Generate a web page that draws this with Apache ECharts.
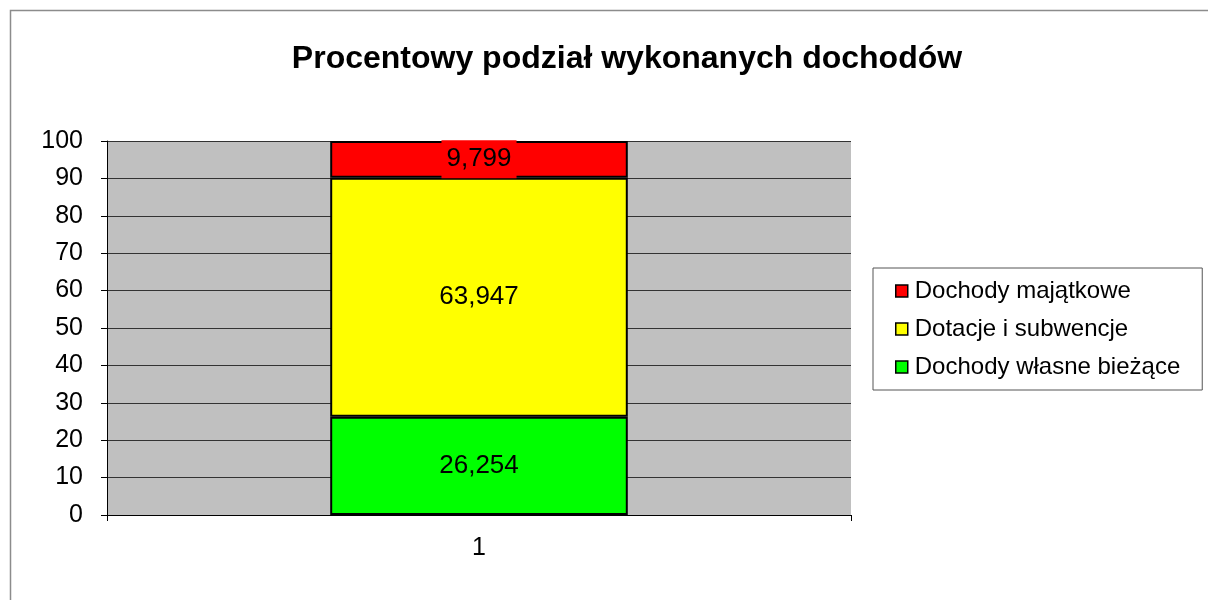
<!DOCTYPE html>
<html lang="pl">
<head>
    <meta charset="UTF-8">
    <title>Procentowy podział wykonanych dochodów</title>
    <script src="https://cdn.jsdelivr.net/npm/echarts@6/dist/echarts.min.js"></script>
    <style>
        html, body { margin: 0; padding: 0; background: #fff; }
        #main { width: 1208px; height: 600px; }
    </style>
</head>
<body>
<div id="main"></div>
<script>
    // dane z wykresu
    let categories = ['1']
    let seriesNames = ['Dochody własne bieżące', 'Dotacje i subwencje', 'Dochody majątkowe']
    let seriesColors = ['#00ff00', '#ffff00', '#ff0000']
    let wlasne = [26.254]
    let dotacje = [63.947]
    let majatkowe = [9.799]
    let yTicks = [0, 10, 20, 30, 40, 50, 60, 70, 80, 90, 100]

    let values = [wlasne, dotacje, majatkowe]
    let fnt = 'Liberation Sans, Arial, sans-serif'

    var myChart = echarts.init(document.getElementById('main'), null, {renderer: 'canvas'});

    let series = []
    for (let i = 0; i < seriesNames.length; i++) {
        series.push({
            name: seriesNames[i],
            type: 'bar',
            stack: 'total',
            barWidth: '40%',
            data: values[i],
            itemStyle: {color: seriesColors[i], borderColor: '#000', borderWidth: 2},
            label: {
                show: true,
                position: 'inside',
                color: '#000',
                fontFamily: fnt,
                fontSize: 26,
                backgroundColor: seriesColors[i],
                padding: [6, 5, 6, 5],
                formatter: function (p) {
                    return p.value.toFixed(3).replace('.', ',')
                }
            }
        })
    }

    var option = {
        animation: false,
        graphic: [{
            type: 'rect',
            shape: {x: 10.5, y: 10.5, width: 1400, height: 800},
            style: {fill: 'none', stroke: '#8c8c8c', lineWidth: 1.5},
            silent: true
        }],
        title: {
            text: 'Procentowy podział wykonanych dochodów',
            left: 622,
            textAlign: 'center',
            top: 38,
            textStyle: {fontFamily: fnt, fontSize: 32, fontWeight: 'bold', color: '#000'}
        },
        legend: {
            orient: 'vertical',
            left: 873,
            top: 268,
            data: seriesNames.slice().reverse(),
            borderColor: '#555',
            borderWidth: 1,
            padding: [11, 22, 11, 22],
            itemGap: 14,
            itemWidth: 12,
            itemHeight: 12,
            icon: 'rect',
            itemStyle: {borderColor: '#000', borderWidth: 1.5},
            textStyle: {fontFamily: fnt, fontSize: 24, color: '#000', padding: [0, 0, 0, 2]}
        },
        grid: {left: 107, right: 357, top: 141, bottom: 85, containLabel: false,
            show: true, backgroundColor: '#c0c0c0', borderWidth: 0},
        xAxis: {
            type: 'category',
            data: categories,
            axisLine: {lineStyle: {color: '#000', width: 1}},
            axisTick: {show: true, length: 6, alignWithLabel: false, lineStyle: {color: '#000'}},
            axisLabel: {fontFamily: fnt, fontSize: 25, color: '#000', margin: 21}
        },
        yAxis: {
            type: 'value',
            min: 0,
            max: 100,
            interval: 10,
            axisLine: {show: true, lineStyle: {color: '#000', width: 1}},
            axisTick: {show: true, length: 6, lineStyle: {color: '#000'}},
            axisLabel: {
                fontFamily: fnt, fontSize: 25, color: '#000', margin: 24,
                customValues: yTicks
            },
            splitLine: {show: true, lineStyle: {color: '#333', width: 1}}
        },
        series: series
    };
    option && myChart.setOption(option);
</script>
</body>
</html>
